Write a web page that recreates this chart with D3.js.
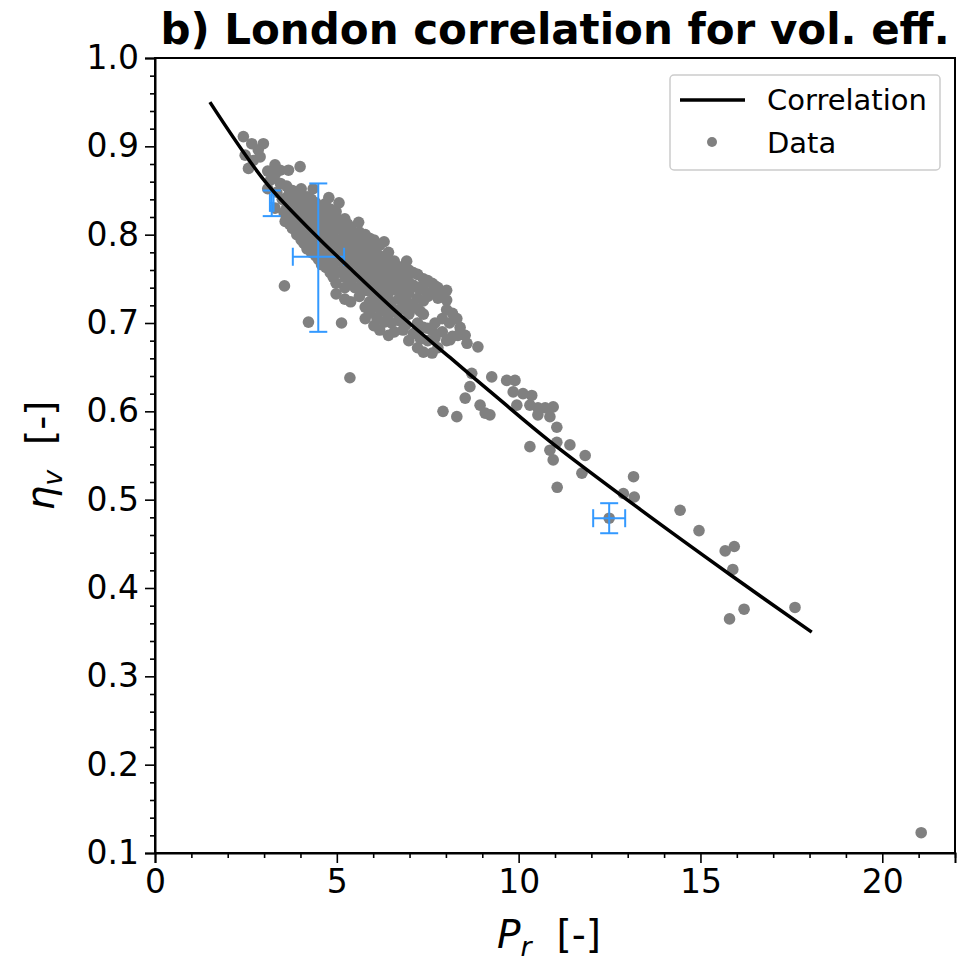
<!DOCTYPE html>
<html><head><meta charset="utf-8">
<script src="https://cdn.jsdelivr.net/npm/d3@7"></script>
<style>body{margin:0;background:#fff}svg{display:block}</style>
</head><body>
<svg id="chart" width="969" height="967"></svg>
<script>
// ---------- data ----------
const titleText = "b) London correlation for vol. eff.";
const xTickValues = [0, 5, 10, 15, 20];
const yTickValues = [0.1, 0.2, 0.3, 0.4, 0.5, 0.6, 0.7, 0.8, 0.9, 1.0];
const legendLabels = ["Correlation", "Data"];

// correlation curve
const corrPr  = [1.51, 3.07, 4.45, 5.36, 6.74, 8.11, 9.40, 10.86, 13.34, 15.82, 18.06];
const corrEta = [0.950, 0.858, 0.798, 0.762, 0.709, 0.661, 0.616, 0.566, 0.489, 0.415, 0.350];

// measured data points [Pr, eta_v]
const dataPoints = [
  [2.43,0.911],[2.66,0.903],[2.98,0.903],[2.84,0.896],[2.48,0.890],[2.89,0.888],[2.57,0.875],[2.70,0.884],
  [3.30,0.879],[3.44,0.873],[3.67,0.873],[3.99,0.877],[3.30,0.868],[3.10,0.872],[3.18,0.862],
  [3.10,0.852],[3.35,0.848],[3.50,0.840],[3.30,0.830],[3.55,0.825],[3.58,0.815],[3.45,0.858],
  [3.56,0.742],[4.22,0.701],[5.13,0.700],[5.36,0.638],
  [3.62,0.818],[3.62,0.830],[3.62,0.842],[3.62,0.855],
  [3.70,0.812],[3.70,0.824],[3.70,0.836],[3.70,0.848],
  [3.78,0.807],[3.78,0.819],[3.78,0.831],[3.78,0.843],[3.78,0.850],
  [3.90,0.800],[3.90,0.812],[3.90,0.824],[3.90,0.836],[3.90,0.848],
  [4.02,0.794],[4.02,0.806],[4.02,0.818],[4.02,0.830],[4.02,0.842],[4.02,0.852],
  [4.10,0.790],[4.10,0.802],[4.10,0.814],[4.10,0.826],[4.10,0.838],
  [4.18,0.784],[4.18,0.796],[4.18,0.808],[4.18,0.820],[4.18,0.832],[4.18,0.843],
  [4.30,0.780],[4.30,0.792],[4.30,0.804],[4.30,0.816],[4.30,0.828],[4.30,0.840],[4.35,0.852],
  [4.42,0.776],[4.42,0.788],[4.42,0.800],[4.42,0.812],[4.42,0.824],[4.42,0.836],
  [4.50,0.772],[4.50,0.784],[4.50,0.796],[4.50,0.808],[4.50,0.820],[4.50,0.832],
  [4.58,0.766],[4.58,0.778],[4.58,0.790],[4.58,0.802],[4.58,0.814],[4.58,0.826],[4.68,0.835],
  [4.70,0.763],[4.70,0.775],[4.70,0.787],[4.70,0.799],[4.70,0.811],[4.70,0.823],[4.78,0.842],
  [4.82,0.757],[4.82,0.769],[4.82,0.781],[4.82,0.793],[4.82,0.805],[4.82,0.817],[4.82,0.829],
  [4.90,0.752],[4.90,0.763],[4.90,0.775],[4.90,0.787],[4.90,0.799],[4.90,0.811],[4.90,0.823],
  [4.98,0.733],[4.98,0.745],[4.98,0.757],[4.98,0.770],[4.98,0.782],[4.98,0.794],[4.98,0.806],[4.98,0.818],[4.98,0.826],
  [5.10,0.758],[5.10,0.770],[5.10,0.782],[5.10,0.794],[5.10,0.806],[5.10,0.816],[5.06,0.836],
  [5.22,0.727],[5.22,0.740],[5.22,0.752],[5.22,0.764],[5.22,0.776],[5.22,0.788],[5.22,0.800],[5.22,0.812],[5.22,0.818],
  [5.30,0.754],[5.30,0.766],[5.30,0.778],[5.30,0.790],[5.30,0.802],[5.30,0.812],
  [5.38,0.724],[5.38,0.748],[5.38,0.760],[5.38,0.772],[5.38,0.784],[5.38,0.796],[5.38,0.808],
  [5.50,0.740],[5.50,0.752],[5.50,0.764],[5.50,0.776],[5.50,0.788],[5.50,0.800],
  [5.62,0.730],[5.62,0.754],[5.62,0.766],[5.62,0.778],[5.62,0.790],[5.62,0.803],[5.60,0.814],
  [5.70,0.736],[5.70,0.748],[5.70,0.760],[5.70,0.772],[5.70,0.784],[5.70,0.796],
  [5.78,0.705],[5.78,0.718],[5.78,0.742],[5.78,0.754],[5.78,0.766],[5.78,0.778],[5.78,0.790],[5.78,0.800],
  [5.90,0.712],[5.90,0.724],[5.90,0.736],[5.90,0.748],[5.90,0.760],[5.90,0.772],[5.90,0.784],[5.90,0.796],
  [6.02,0.697],[6.02,0.722],[6.02,0.734],[6.02,0.746],[6.02,0.758],[6.02,0.770],[6.02,0.782],[6.02,0.794],
  [6.10,0.706],[6.10,0.718],[6.10,0.730],[6.10,0.742],[6.10,0.754],[6.10,0.766],[6.10,0.778],[6.10,0.790],
  [6.18,0.692],[6.18,0.716],[6.18,0.728],[6.18,0.740],[6.18,0.752],[6.18,0.764],[6.18,0.776],[6.18,0.788],
  [6.30,0.701],[6.30,0.713],[6.30,0.725],[6.30,0.737],[6.30,0.749],[6.30,0.761],[6.30,0.773],[6.30,0.792],
  [6.42,0.686],[6.42,0.710],[6.42,0.722],[6.42,0.734],[6.42,0.746],[6.42,0.758],[6.42,0.770],[6.42,0.780],
  [6.50,0.700],[6.50,0.712],[6.50,0.724],[6.50,0.744],[6.50,0.756],[6.50,0.766],
  [6.58,0.690],[6.58,0.714],[6.58,0.738],[6.58,0.750],[6.58,0.762],[6.58,0.770],
  [6.70,0.703],[6.70,0.715],[6.70,0.727],[6.70,0.739],[6.70,0.751],[6.70,0.763],
  [6.82,0.692],[6.82,0.716],[6.82,0.728],[6.82,0.740],[6.82,0.752],[6.82,0.764],
  [6.90,0.698],[6.90,0.728],[6.90,0.740],[6.90,0.752],[6.92,0.770],
  [6.98,0.680],[6.98,0.710],[6.98,0.722],[6.98,0.734],[6.98,0.746],[6.98,0.760],
  [7.10,0.688],[7.10,0.719],[7.10,0.743],[7.10,0.757],
  [7.22,0.672],[7.22,0.700],[7.22,0.716],[7.22,0.728],[7.22,0.740],[7.22,0.755],
  [7.30,0.682],[7.30,0.713],[7.30,0.739],
  [7.38,0.667],[7.38,0.695],[7.38,0.710],[7.38,0.725],[7.38,0.738],[7.38,0.750],
  [7.50,0.680],[7.50,0.694],[7.50,0.730],[7.50,0.748],
  [7.62,0.666],[7.62,0.692],[7.62,0.735],[7.62,0.745],
  [7.70,0.683],[7.70,0.700],[7.70,0.742],
  [7.78,0.672],[7.78,0.728],[7.78,0.740],
  [7.90,0.690],[7.90,0.705],[7.90,0.733],
  [8.02,0.680],[8.02,0.715],[8.02,0.726],[8.02,0.737],
  [8.10,0.700],[8.18,0.685],[8.18,0.711],[8.30,0.705],[8.39,0.695],
  [8.11,0.681],[8.33,0.686],[8.58,0.677],[8.88,0.673],[8.53,0.686],
  [7.92,0.600],[8.30,0.594],
  [8.71,0.643],[8.66,0.628],[8.53,0.615],[8.94,0.607],[9.08,0.598],[9.21,0.596],[9.26,0.639],
  [9.67,0.635],[9.90,0.635],[9.85,0.622],[10.12,0.620],[10.36,0.618],[9.95,0.607],[10.31,0.607],
  [10.53,0.604],[10.73,0.604],[10.95,0.605],[10.53,0.596],[10.86,0.594],[11.05,0.582],[11.05,0.565],
  [10.31,0.560],[10.86,0.556],[11.41,0.562],[11.83,0.550],[10.95,0.545],[11.74,0.530],[11.06,0.514],
  [12.49,0.479],[13.16,0.526],[12.88,0.507],[13.18,0.503],[14.44,0.488],[14.96,0.465],
  [15.68,0.442],[15.93,0.447],[15.89,0.421],[16.20,0.376],[15.80,0.365],[17.60,0.378],[21.07,0.123]
];

// error bars: centre and extents
const errPr     = [3.21, 4.49, 12.49];
const errEta    = [0.836, 0.775, 0.479];
const errPrLo   = [3.16, 3.79, 12.05];
const errPrHi   = [3.26, 5.20, 12.93];
const errEtaLo  = [0.821, 0.690, 0.462];
const errEtaHi  = [0.850, 0.858, 0.496];

// ---------- chart ----------
const svg = d3.select("#chart");
const L = 155, R = 955, T = 58, B = 853;
const x = d3.scaleLinear().domain([0, 22]).range([L, R]);
const y = d3.scaleLinear().domain([0.1, 1.0]).range([B, T]);
const font = "DejaVu Sans, sans-serif";
const gray = "#808080", blue = "#3399ff";

// data points
svg.append("g").selectAll("circle").data(dataPoints).join("circle")
  .attr("cx", d => x(d[0])).attr("cy", d => y(d[1])).attr("r", 5.8).attr("fill", gray);

// error bars
const cap = 9;
const eb = svg.append("g").attr("stroke", blue).attr("stroke-width", 2).attr("fill", "none");
errPr.forEach((p, i) => {
  const cx = x(p), cy = y(errEta[i]);
  const y0 = y(errEtaLo[i]), y1 = y(errEtaHi[i]);
  const x0 = x(errPrLo[i]), x1 = x(errPrHi[i]);
  eb.append("line").attr("x1", cx).attr("x2", cx).attr("y1", y0).attr("y2", y1);
  eb.append("line").attr("x1", x0).attr("x2", x1).attr("y1", cy).attr("y2", cy);
  eb.append("line").attr("x1", cx - cap).attr("x2", cx + cap).attr("y1", y0).attr("y2", y0);
  eb.append("line").attr("x1", cx - cap).attr("x2", cx + cap).attr("y1", y1).attr("y2", y1);
  eb.append("line").attr("x1", x0).attr("x2", x0).attr("y1", cy - cap).attr("y2", cy + cap);
  eb.append("line").attr("x1", x1).attr("x2", x1).attr("y1", cy - cap).attr("y2", cy + cap);
});

// correlation curve
const line = d3.line().x(d => x(d[0])).y(d => y(d[1])).curve(d3.curveCatmullRom.alpha(0.5));
svg.append("path").datum(corrPr.map((p, i) => [p, corrEta[i]]))
  .attr("d", line).attr("fill", "none").attr("stroke", "#000").attr("stroke-width", 3.5);

// axes
svg.append("g").attr("transform", `translate(0,${B})`)
  .call(d3.axisBottom(x).tickValues(xTickValues).tickSize(10).tickPadding(7).tickFormat(d3.format("d")));
const xMinor = d3.range(0, 23, 1).filter(v => v % 5 !== 0);
svg.append("g").attr("transform", `translate(0,${B})`)
  .call(d3.axisBottom(x).tickValues(xMinor).tickSize(5).tickFormat(""))
  .call(g => g.select(".domain").remove());
svg.append("g").attr("transform", `translate(${L},0)`)
  .call(d3.axisLeft(y).tickValues(yTickValues).tickSize(10).tickPadding(6).tickFormat(d3.format(".1f")));
const yMinor = d3.range(10, 101, 2).filter(v => v % 10 !== 0).map(v => v / 100);
svg.append("g").attr("transform", `translate(${L},0)`)
  .call(d3.axisLeft(y).tickValues(yMinor).tickSize(5).tickFormat(""))
  .call(g => g.select(".domain").remove());
svg.selectAll(".tick line").attr("stroke", "#000").attr("stroke-width", 1.6);
svg.selectAll(".domain").attr("stroke", "#000").attr("stroke-width", 2);
svg.selectAll(".tick text").attr("font-family", font).attr("font-size", 33).attr("fill", "#000");

// box (top and right spines)
svg.append("rect").attr("x", L).attr("y", T).attr("width", R - L).attr("height", B - T)
  .attr("fill", "none").attr("stroke", "#000").attr("stroke-width", 2);

// title
svg.append("text").attr("x", (L + R) / 2).attr("y", 44).attr("text-anchor", "middle")
  .attr("font-family", font).attr("font-weight", "bold").attr("font-size", 42).text(titleText);

// x label
const xl = svg.append("text").attr("x", (L + R) / 2 - 6).attr("y", 948).attr("text-anchor", "middle")
  .attr("font-family", font).attr("font-size", 39);
xl.append("tspan").attr("font-style", "italic").text("P");
xl.append("tspan").attr("font-style", "italic").attr("font-size", 27).attr("dy", 8).text("r");
xl.append("tspan").attr("dy", -8).text("\u00a0\u00a0[-]");

// y label
const yl = svg.append("text").attr("transform", `translate(54,${(T + B) / 2}) rotate(-90)`)
  .attr("text-anchor", "middle").attr("font-family", font).attr("font-size", 39);
yl.append("tspan").attr("font-style", "italic").text("\u03b7");
yl.append("tspan").attr("font-style", "italic").attr("font-size", 27).attr("dy", 8).text("v");
yl.append("tspan").attr("dy", -8).text("\u00a0\u00a0[-]");

// legend
const lg = svg.append("g");
lg.append("rect").attr("x", 670).attr("y", 75).attr("width", 270).attr("height", 95).attr("rx", 4)
  .attr("fill", "#fff").attr("fill-opacity", 0.8).attr("stroke", "#cccccc").attr("stroke-width", 1.5);
lg.append("line").attr("x1", 680).attr("x2", 745).attr("y1", 100).attr("y2", 100)
  .attr("stroke", "#000").attr("stroke-width", 3.5);
lg.append("circle").attr("cx", 712).attr("cy", 142).attr("r", 5).attr("fill", gray);
lg.selectAll("text.lbl").data(legendLabels).join("text").attr("class", "lbl")
  .attr("x", 767).attr("y", (d, i) => 110 + i * 43)
  .attr("font-family", font).attr("font-size", 29).text(d => d);
</script>
</body></html>
